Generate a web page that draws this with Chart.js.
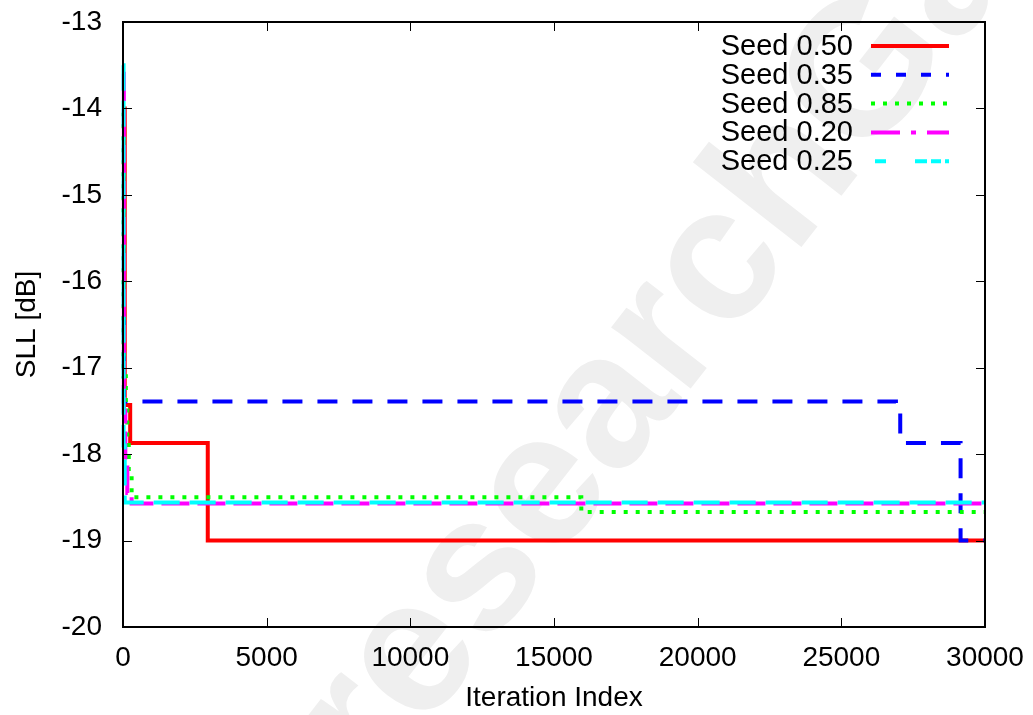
<!DOCTYPE html>
<html>
<head>
<meta charset="utf-8">
<script src="https://cdn.jsdelivr.net/npm/chart.js@4.4.1/dist/chart.umd.min.js"></script>
<style>
  html, body { margin: 0; padding: 0; background: #fff; }
  #wrap { width: 1033px; height: 715px; }
</style>
</head>
<body>
<div id="wrap"><canvas id="grafico" width="1033" height="715"></canvas></div>
<script>
// best SLL so far for each seed, listed at the iterations where it changes
const iterSeed050 = [0, 60, 250, 2950, 30000];
const sllSeed050 = [-14.0, -17.43, -17.87, -19.0, -19.0];

const iterSeed035 = [0, 30, 26900, 27050, 29150, 30000];
const sllSeed035 = [-16.4, -17.39, -17.45, -17.87, -19.0, -19.0];

const iterSeed085 = [0, 20, 100, 150, 200, 300, 15950, 30000];
const sllSeed085 = [-14.05, -17.1, -17.45, -17.8, -18.2, -18.5, -18.67, -18.67];

const iterSeed020 = [0, 30, 80, 150, 300, 30000];
const sllSeed020 = [-13.6, -17.5, -18.1, -18.45, -18.57, -18.57];

const iterSeed025 = [0, 20, 60, 30000];
const sllSeed025 = [-13.5, -17.9, -18.56, -18.56];

const xTicks = [0, 5000, 10000, 15000, 20000, 25000, 30000];
const yTicks = [-20, -19, -18, -17, -16, -15, -14, -13];

const FONTE = 'Liberation Sans, Arial, Helvetica, sans-serif';

const pontos = (xs, ys) => xs.map((x, i) => ({ x: x, y: ys[i] }));

// dash = pattern on the curve, dashChave = pattern in the key
const series = [
    { label: 'Seed 0.50', data: pontos(iterSeed050, sllSeed050), cor: '#ff0000', dash: [], dashChave: [] },
    { label: 'Seed 0.35', data: pontos(iterSeed035, sllSeed035), cor: '#0000ff', dash: [20, 15], dashChave: [10, 15] },
    { label: 'Seed 0.85', data: pontos(iterSeed085, sllSeed085), cor: '#00ff00', dash: [4, 8], dashChave: [4, 8] },
    { label: 'Seed 0.20', data: pontos(iterSeed020, sllSeed020), cor: '#ff00ff', dash: [28, 8], dashChave: [29, 11, 5, 11] },
    { label: 'Seed 0.25', data: pontos(iterSeed025, sllSeed025), cor: '#00ffff', dash: [26, 10], dashChave: [0, 4, 11, 29, 12, 4, 10, 4, 11] }
];

// watermark under everything else
const marcaDagua = {
    id: 'marcaDagua',
    beforeDraw(chart) {
        const ctx = chart.ctx;
        const tam = 190;
        ctx.save();
        ctx.font = 'bold ' + tam + 'px ' + FONTE;
        const wr = ctx.measureText('r').width;
        const we = ctx.measureText('e').width;
        ctx.translate(416, 660);
        ctx.rotate(-52 * Math.PI / 180);
        ctx.fillStyle = '#efefef';
        ctx.textBaseline = 'alphabetic';
        ctx.textAlign = 'left';
        ctx.fillText('researchGate', -(wr + we / 2), 0.26 * tam);
        ctx.restore();
    }
};

// frame with inward ticks on all four sides, then the key
const moldura = {
    id: 'moldura',
    afterDatasetsDraw(chart) {
        const ctx = chart.ctx;
        const a = chart.chartArea;
        const sx = chart.scales.x, sy = chart.scales.y;
        ctx.save();
        ctx.strokeStyle = '#000';
        ctx.lineWidth = 1;
        ctx.beginPath();
        xTicks.forEach(v => {
            const px = Math.round(sx.getPixelForValue(v)) + 0.5;
            ctx.moveTo(px, a.bottom); ctx.lineTo(px, a.bottom - 9);
            ctx.moveTo(px, a.top); ctx.lineTo(px, a.top + 9);
        });
        yTicks.forEach(v => {
            const py = Math.round(sy.getPixelForValue(v)) + 0.5;
            ctx.moveTo(a.left, py); ctx.lineTo(a.left + 9, py);
            ctx.moveTo(a.right, py); ctx.lineTo(a.right - 9, py);
        });
        ctx.stroke();
        ctx.lineWidth = 2;
        ctx.strokeRect(a.left, a.top, a.right - a.left, a.bottom - a.top);

        // key
        ctx.font = '29px ' + FONTE;
        ctx.textAlign = 'right';
        ctx.textBaseline = 'middle';
        ctx.lineWidth = 4;
        ctx.lineCap = 'butt';
        series.forEach((s, i) => {
            const y = 46 + i * 28.8;
            ctx.fillStyle = '#000';
            ctx.fillText(s.label, 853, y + 1);
            ctx.strokeStyle = s.cor;
            ctx.setLineDash(s.dashChave);
            ctx.beginPath();
            ctx.moveTo(871, y);
            ctx.lineTo(949, y);
            ctx.stroke();
        });
        ctx.restore();
    }
};

const semPadding = s => { s.paddingLeft = 0; s.paddingRight = 0; s.paddingTop = 0; s.paddingBottom = 0; };

const grafico = new Chart(document.getElementById('grafico').getContext('2d'), {
    type: 'line',
    data: {
        datasets: series.map((s, i) => ({
            label: s.label,
            data: s.data,
            borderColor: s.cor,
            backgroundColor: s.cor,
            borderWidth: 4,
            borderDash: s.dash,
            borderCapStyle: 'butt',
            stepped: true,
            pointRadius: 0,
            fill: false,
            clip: 8,
            order: series.length - i
        }))
    },
    options: {
        responsive: false,
        animation: false,
        layout: { padding: { top: 22, right: 48, left: 0, bottom: 0 } },
        plugins: {
            legend: { display: false },
            tooltip: { enabled: false }
        },
        scales: {
            x: {
                type: 'linear',
                min: 0,
                max: 30000,
                afterFit: s => { s.height = 88; semPadding(s); },
                afterBuildTicks: s => { s.ticks = xTicks.map(v => ({ value: v })); },
                grid: { display: false, drawTicks: false },
                border: { display: false },
                ticks: { color: '#000', font: { family: FONTE, size: 28 }, padding: 14, maxRotation: 0, callback: v => String(v) },
                title: { display: true, text: 'Iteration Index', color: '#000', font: { family: FONTE, size: 28 }, padding: { top: 1, bottom: 0 } }
            },
            y: {
                type: 'linear',
                min: -20,
                max: -13,
                afterFit: s => { s.width = 123; semPadding(s); },
                afterBuildTicks: s => { s.ticks = yTicks.map(v => ({ value: v })); },
                grid: { display: false, drawTicks: false },
                border: { display: false },
                ticks: { color: '#000', font: { family: FONTE, size: 28 }, padding: 21, callback: v => String(v) },
                title: { display: true, text: 'SLL [dB]', color: '#000', font: { family: FONTE, size: 28 }, padding: { top: 10, bottom: 0 } }
            }
        }
    },
    plugins: [marcaDagua, moldura]
});
</script>
</body>
</html>
